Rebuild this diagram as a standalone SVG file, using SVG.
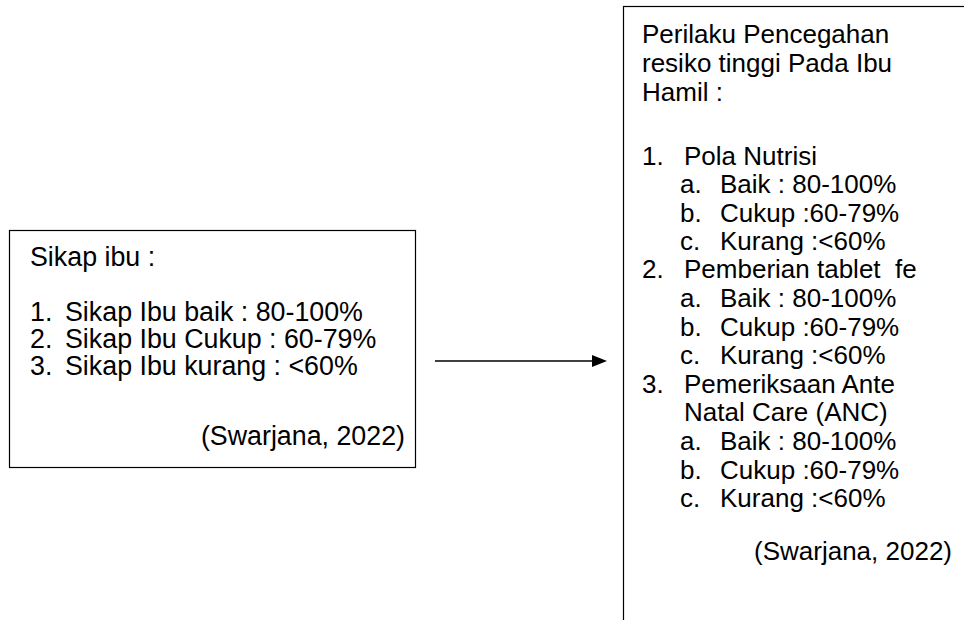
<svg xmlns="http://www.w3.org/2000/svg" width="964" height="620" viewBox="0 0 964 620">
<style>
.box{fill:#fff;stroke:#000;stroke-width:1.2}
.t{font-family:"Liberation Sans",Arial,sans-serif;font-size:26px;fill:#000}
.l{font-size:26.8px}
.r{text-anchor:end}
.conn{stroke:#000;stroke-width:1.6;fill:none}
.head{fill:#000}
</style>
<rect width="964" height="620" fill="#fff"/>
<g id="sikap">
<rect class="box" x="9.5" y="230.5" width="406" height="237"/>
<text class="t l" x="30" y="266">Sikap ibu :</text>
<text class="t l" x="30" y="321">1.</text><text class="t l" x="65" y="321">Sikap Ibu baik : 80-100%</text>
<text class="t l" x="30" y="348">2.</text><text class="t l" x="65" y="348">Sikap Ibu Cukup : 60-79%</text>
<text class="t l" x="30" y="375">3.</text><text class="t l" x="65" y="375">Sikap Ibu kurang : &lt;60%</text>
<text class="t l r" x="405" y="445">(Swarjana, 2022)</text>
</g>
<g id="perilaku">
<rect class="box" x="623.5" y="6.5" width="400" height="700"/>
<text class="t" x="642" y="43">Perilaku Pencegahan</text>
<text class="t" x="642" y="72">resiko tinggi Pada Ibu</text>
<text class="t" x="642" y="101">Hamil :</text>
<text class="t" x="642" y="165">1.</text><text class="t" x="684" y="165">Pola Nutrisi</text>
<text class="t" x="680" y="193">a.</text><text class="t" x="720" y="193">Baik : 80-100%</text>
<text class="t" x="680" y="222">b.</text><text class="t" x="720" y="222">Cukup :60-79%</text>
<text class="t" x="680" y="250">c.</text><text class="t" x="720" y="250">Kurang :&lt;60%</text>
<text class="t" x="642" y="278">2.</text><text class="t" x="684" y="278">Pemberian tablet &#160;fe</text>
<text class="t" x="680" y="307">a.</text><text class="t" x="720" y="307">Baik : 80-100%</text>
<text class="t" x="680" y="336">b.</text><text class="t" x="720" y="336">Cukup :60-79%</text>
<text class="t" x="680" y="364">c.</text><text class="t" x="720" y="364">Kurang :&lt;60%</text>
<text class="t" x="642" y="393">3.</text><text class="t" x="684" y="393">Pemeriksaan Ante</text>
<text class="t" x="684" y="421">Natal Care (ANC)</text>
<text class="t" x="680" y="450">a.</text><text class="t" x="720" y="450">Baik : 80-100%</text>
<text class="t" x="680" y="479">b.</text><text class="t" x="720" y="479">Cukup :60-79%</text>
<text class="t" x="680" y="507">c.</text><text class="t" x="720" y="507">Kurang :&lt;60%</text>
<text class="t r" x="952" y="560">(Swarjana, 2022)</text>
</g>
<g id="connectors">
<line class="conn" x1="435" y1="361" x2="594" y2="361"/>
<polygon class="head" points="592,355 607,361 592,367"/>
</g>
</svg>
